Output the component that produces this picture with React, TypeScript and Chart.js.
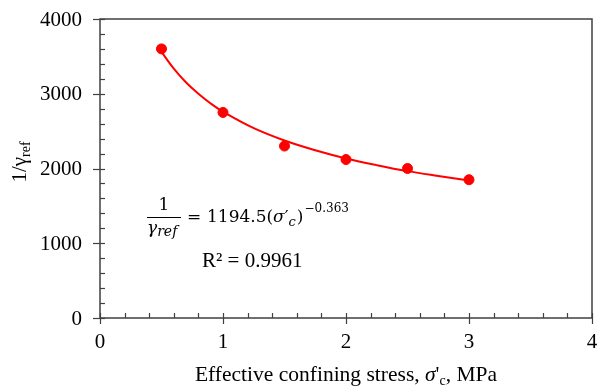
import React, { useEffect, useRef } from "react";
import { Chart, registerables } from "chart.js";

Chart.register(...registerables);

// ---- data ----
const stress = [0.5, 1, 1.5, 2, 2.5, 3];
const invGammaRef = [3600, 2750, 2300, 2120, 2000, 1850];

// trend line (power fit)
const fitStress = [0.5, 0.6, 0.7, 0.8, 0.9, 1, 1.25, 1.5, 1.75, 2, 2.25, 2.5, 2.75, 3];
const fitInvGamma = [3560, 3335, 3150, 3000, 2870, 2760, 2540, 2375, 2245, 2135, 2045, 1965, 1900, 1840];

const xTickValues = [0, 1, 2, 3, 4];
const yTickValues = [0, 1000, 2000, 3000, 4000];
const xMinorStep = 0.2;
const yMinorStep = 200;

const SERIF = '"Liberation Serif", "Times New Roman", serif';
const MATH = '"DejaVu Serif", serif';
const AXIS = "#404040";
const RED = "#ff0000";

const font = (size: number, italic = false, fam = SERIF) =>
  `${italic ? "italic " : ""}${size}px ${fam}`;

function run(ctx: CanvasRenderingContext2D, text: string, f: string, x: number, y: number) {
  ctx.font = f;
  ctx.fillText(text, x, y);
  return x + ctx.measureText(text).width;
}

const decorPlugin = {
  id: "decor",
  afterDraw(chart: any) {
    const { ctx, chartArea } = chart;
    const { left, right, top, bottom } = chartArea;
    const xs = chart.scales.x;
    const ys = chart.scales.y;
    ctx.save();

    // frame
    ctx.strokeStyle = AXIS;
    ctx.lineWidth = 1.5;
    ctx.beginPath();
    ctx.moveTo(left, top);
    ctx.lineTo(right, top);
    ctx.lineTo(right, bottom);
    ctx.lineTo(left, bottom);
    ctx.closePath();
    ctx.stroke();

    // x ticks
    ctx.lineWidth = 1.2;
    const nx = Math.round((xs.max - xs.min) / xMinorStep);
    for (let i = 0; i <= nx; i++) {
      const v = xs.min + i * xMinorStep;
      const px = Math.round(xs.getPixelForValue(v)) + 0.5;
      const major = i % 5 === 0;
      ctx.beginPath();
      ctx.moveTo(px, bottom - 5);
      ctx.lineTo(px, major ? bottom + 6 : bottom);
      ctx.stroke();
    }
    // y ticks
    const ny = Math.round((ys.max - ys.min) / yMinorStep);
    for (let i = 0; i <= ny; i++) {
      const v = ys.min + i * yMinorStep;
      const py = Math.round(ys.getPixelForValue(v)) + 0.5;
      const major = i % 5 === 0;
      ctx.beginPath();
      ctx.moveTo(major ? left - 7 : left, py);
      ctx.lineTo(left + 5, py);
      ctx.stroke();
    }

    // tick labels
    ctx.fillStyle = "#000";
    ctx.font = font(21);
    ctx.textAlign = "center";
    ctx.textBaseline = "alphabetic";
    xTickValues.forEach((v) => {
      ctx.fillText(String(v), xs.getPixelForValue(v), bottom + 30);
    });
    ctx.textAlign = "right";
    ctx.textBaseline = "middle";
    yTickValues.forEach((v) => {
      ctx.fillText(String(v), left - 18, ys.getPixelForValue(v) + 1);
    });

    // x title
    ctx.textAlign = "left";
    ctx.textBaseline = "alphabetic";
    const tParts: [string, string, number][] = [
      ["Effective confining stress, ", font(21.5), 0],
      ["σ", font(21.5, true), 0],
      ["'", font(21.5), 0],
      ["c", font(14), 4],
      [", MPa", font(21.5), 0],
    ];
    let tw = 0;
    tParts.forEach(([t, f]) => {
      ctx.font = f;
      tw += ctx.measureText(t).width;
    });
    let tx = (left + right) / 2 - tw / 2;
    const tBase = bottom + 63;
    tParts.forEach(([t, f, dy]) => {
      tx = run(ctx, t, f, tx, tBase + dy);
    });

    // y title (rotated)
    ctx.save();
    ctx.translate(26, 162);
    ctx.rotate(-Math.PI / 2);
    ctx.font = font(21);
    const a = "1/";
    const wa = ctx.measureText(a).width;
    const g = "γ";
    const wg = ctx.measureText(g).width;
    ctx.font = font(14);
    const wr = ctx.measureText("ref").width;
    let yx = -(wa + wg + wr) / 2;
    yx = run(ctx, a, font(21), yx, 0);
    yx = run(ctx, g, font(21), yx, 0);
    run(ctx, "ref", font(14), yx, 4);
    ctx.restore();

    // equation
    ctx.textAlign = "center";
    run(ctx, "1", font(17, false, MATH), 164, 210);
    ctx.textAlign = "left";
    ctx.strokeStyle = "#000";
    ctx.lineWidth = 1;
    ctx.beginPath();
    ctx.moveTo(147, 217.5);
    ctx.lineTo(181, 217.5);
    ctx.stroke();
    let ex = run(ctx, "γ", font(17, true, MATH), 147, 233);
    run(ctx, "ref", font(14, true, MATH), ex, 236);

    const base = 222;
    run(ctx, "=", font(17, false, MATH), 187, base);
    ex = run(ctx, "1194.5(", font(17, false, MATH), 207, base);
    ex = run(ctx, "σ", font(17, true, MATH), ex, base);
    ex = run(ctx, "′", font(17, false, MATH), ex, base);
    ex = run(ctx, "c", font(13, true, MATH), ex, base + 4);
    ex = run(ctx, ")", font(17, false, MATH), ex + 1, base);
    run(ctx, "−0.363", font(12, false, MATH), ex + 1, base - 10);

    run(ctx, "R² = 0.9961", font(21), 202, 267);

    ctx.restore();
  },
};

export default function App() {
  const ref = useRef<HTMLCanvasElement | null>(null);

  useEffect(() => {
    if (!ref.current) return;
    const chart = new Chart(ref.current, {
      type: "scatter",
      data: {
        datasets: [
          {
            type: "line",
            label: "fit",
            data: fitStress.map((s, i) => ({ x: s, y: fitInvGamma[i] })),
            borderColor: RED,
            borderWidth: 2,
            pointRadius: 0,
            showLine: true,
            fill: false,
            tension: 0.4,
          } as any,
          {
            label: "data",
            data: stress.map((s, i) => ({ x: s, y: invGammaRef[i] })),
            backgroundColor: RED,
            borderColor: RED,
            pointRadius: 5,
            pointHoverRadius: 5,
          },
        ],
      },
      options: {
        animation: false,
        responsive: false,
        events: [],
        layout: { padding: { top: 19, right: 2, left: 0, bottom: 0 } },
        plugins: {
          legend: { display: false },
          tooltip: { enabled: false },
        },
        scales: {
          x: {
            type: "linear",
            min: 0,
            max: 4,
            ticks: { display: false, stepSize: 1 },
            grid: { display: false },
            border: { display: false },
            afterFit: (s: any) => {
              s.height = 70;
            },
          },
          y: {
            type: "linear",
            min: 0,
            max: 4000,
            ticks: { display: false, stepSize: 1000 },
            grid: { display: false },
            border: { display: false },
            afterFit: (s: any) => {
              s.width = 100;
            },
          },
        },
      },
      plugins: [decorPlugin],
    });
    return () => chart.destroy();
  }, []);

  return (
    <div style={{ position: "fixed", left: 0, top: 0, width: 598, height: 388, background: "#fff" }}>
      <canvas ref={ref} width={598} height={388} style={{ display: "block" }} />
    </div>
  );
}
